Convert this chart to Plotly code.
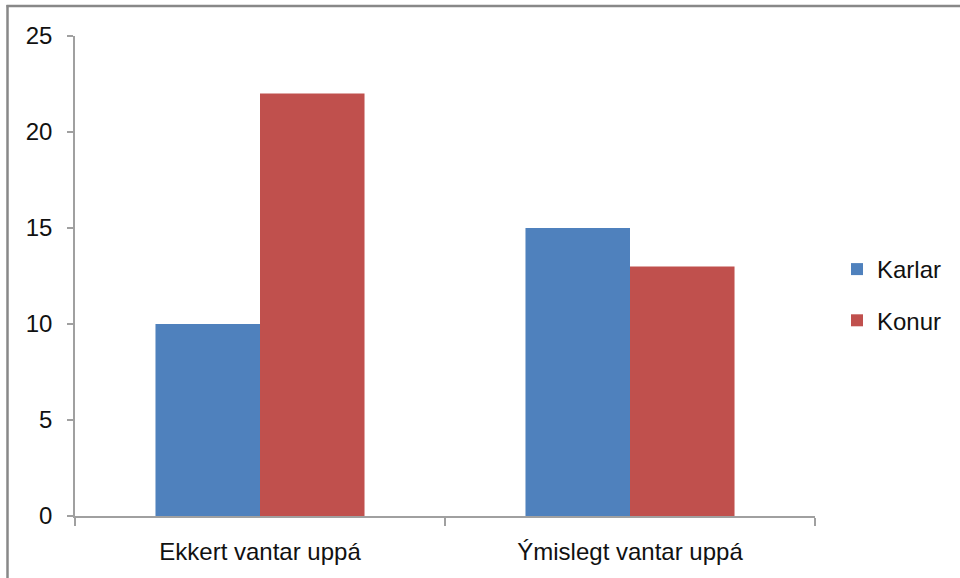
import plotly.graph_objects as go

categories = ["Ekkert vantar uppá", "Ýmislegt vantar uppá"]
karlar = [10, 15]
konur = [22, 13]
y_ticks = [0, 5, 10, 15, 20, 25]

FONT = "Liberation Sans"
fig = go.Figure()
fig.add_trace(go.Bar(name="Karlar", x=categories, y=karlar, marker_color="#4F81BD",
                     marker_line_width=0, legendgroup="a"))
fig.add_trace(go.Bar(name="Konur", x=categories, y=konur, marker_color="#C0504D",
                     marker_line_width=0, legendgroup="b"))

L, R, T, B = 75, 145, 36, 62
W, H = 960, 578
pw, ph = W - L - R, H - T - B
def px(xp): return (xp - L) / pw
def py(yp): return (H - B - yp) / ph

fig.update_layout(
    width=W, height=H,
    margin=dict(l=L, r=R, t=T, b=B),
    paper_bgcolor="white", plot_bgcolor="white",
    barmode="group", bargap=0.435, bargroupgap=0,
    font=dict(family=FONT, size=24, color="#111111"),
    showlegend=True,
    legend=dict(x=px(837), y=py(295), xanchor="left", yanchor="middle",
                tracegroupgap=17, font=dict(size=24), bgcolor="rgba(0,0,0,0)"),
    xaxis=dict(showline=True, linecolor="#A0A0A0", linewidth=1.5,
               ticks="outside", tickson="boundaries", ticklen=8, tickcolor="#A0A0A0",
               tickwidth=1.5, showgrid=False, zeroline=False, ticklabelstandoff=13),
    yaxis=dict(range=[0, 25], tickvals=y_ticks, showline=True, linecolor="#A0A0A0",
               linewidth=1.5, ticks="outside", ticklen=6, tickcolor="#A0A0A0",
               tickwidth=1.5, showgrid=False, zeroline=False, ticklabelstandoff=10),
    shapes=[
        dict(type="line", xref="paper", yref="paper", x0=px(7.5), x1=px(7.5),
             y0=py(5), y1=py(580), line=dict(color="#888888", width=2.5)),
        dict(type="line", xref="paper", yref="paper", x0=px(6.5), x1=px(962),
             y0=py(6), y1=py(6), line=dict(color="#888888", width=2.5)),
    ],
)
fig.write_html("out.html", config={"displayModeBar": False})

with open("out.html", "r", encoding="utf-8") as f:
    html = f.read()
html = html.replace("<head>", "<head><style>html,body{margin:0;padding:0;overflow:hidden;}</style>", 1)
with open("out.html", "w", encoding="utf-8") as f:
    f.write(html)
